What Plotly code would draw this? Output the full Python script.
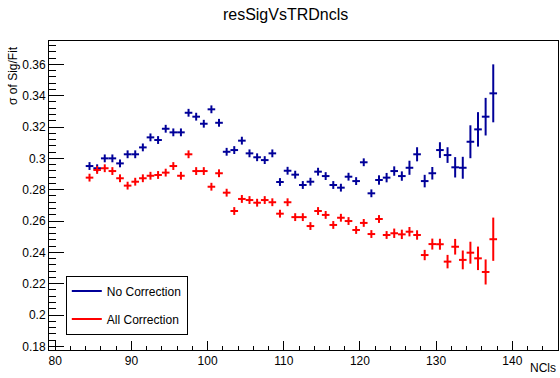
import plotly.graph_objects as go

# ---- data ----
ncls = [84.5 + i for i in range(54)]

no_corr = [0.2951, 0.2937, 0.3000, 0.3000, 0.2968, 0.3026, 0.3026, 0.3070, 0.3134, 0.3117,
           0.3189, 0.3166, 0.3166, 0.3291, 0.3266, 0.3221, 0.3313, 0.3227, 0.3042, 0.3053,
           0.3113, 0.3032, 0.3007, 0.2989, 0.3032, 0.2849, 0.2921, 0.2896, 0.2830, 0.2851,
           0.2915, 0.2887, 0.2830, 0.2813, 0.2883, 0.2855, 0.2975, 0.2777, 0.2862, 0.2877,
           0.2919, 0.2887, 0.2940, 0.3026, 0.2855, 0.2905, 0.3053, 0.3021, 0.2943, 0.2940,
           0.3106, 0.3185, 0.3266, 0.3415]
no_corr_err = [0.0025] * 38 + [0.003, 0.003, 0.003, 0.003, 0.0045, 0.0045, 0.004, 0.004,
                               0.005, 0.005, 0.0065, 0.007, 0.0105, 0.011, 0.012, 0.0185]

all_corr = [0.2877, 0.2926, 0.2937, 0.2919, 0.2873, 0.2826, 0.2851, 0.2873, 0.2889, 0.2894,
            0.2909, 0.2951, 0.2889, 0.3026, 0.2919, 0.2919, 0.2819, 0.2905, 0.2781, 0.2664,
            0.2741, 0.2734, 0.2717, 0.2734, 0.2720, 0.2647, 0.2720, 0.2625, 0.2625, 0.2568,
            0.2664, 0.2639, 0.2575, 0.2621, 0.2600, 0.2543, 0.2588, 0.2517, 0.2613, 0.2511,
            0.2522, 0.2515, 0.2532, 0.2511, 0.2383, 0.2453, 0.2452, 0.2341, 0.2436, 0.2352,
            0.2398, 0.2362, 0.2275, 0.2484]
all_corr_err = [0.0025] * 40 + [0.003, 0.003, 0.003, 0.003, 0.0033, 0.0035, 0.0035, 0.0043,
                                0.005, 0.006, 0.007, 0.0075, 0.008, 0.0138]

bin_half = [0.5] * len(ncls)

title = "resSigVsTRDncls"
x_title = "NCls"
y_title = "σ of Sig/Fit"
names = ["No Correction", "All Correction"]

BLUE = "#000099"
RED = "#ff0000"
FONT = "Liberation Sans, Arial, Helvetica, sans-serif"

fig = go.Figure()
for yv, ye, col in [(no_corr, no_corr_err, BLUE), (all_corr, all_corr_err, RED)]:
    fig.add_trace(go.Scatter(
        x=ncls, y=yv, mode="markers",
        marker=dict(size=1, color=col),
        error_y=dict(type="data", array=ye, color=col, thickness=2, width=0),
        error_x=dict(type="data", array=bin_half, color=col, thickness=2, width=0),
        showlegend=False,
    ))

# legend entries (line samples)
for nm, col in zip(names, [BLUE, RED]):
    fig.add_trace(go.Scatter(x=[None], y=[None], mode="lines", name=nm,
                             legendgroup=nm, line=dict(color=col, width=2)))

fig.update_layout(
    width=560, height=378,
    margin=dict(l=49, r=2, t=41, b=28),
    paper_bgcolor="white", plot_bgcolor="white",
    font=dict(family=FONT, size=12, color="black"),
    title=dict(text=title, x=0.51, xanchor="center", y=0.962, yanchor="middle",
               font=dict(size=16, family=FONT, color="black")),
    showlegend=True,
    legend=dict(x=0.033, y=0.05, xanchor="left", yanchor="bottom",
                bordercolor="black", borderwidth=1, bgcolor="white",
                font=dict(size=12, family=FONT), tracegroupgap=9,
                itemwidth=30, entrywidth=122),
    xaxis=dict(range=[79.18, 146.0], showgrid=False, zeroline=False,
               showline=True, linecolor="black", linewidth=1, mirror=True,
               ticks="inside", ticklen=9, tickcolor="black", dtick=10, tick0=0,
               minor=dict(ticks="inside", ticklen=4, dtick=2, tickcolor="black"),
               tickfont=dict(size=12)),
    yaxis=dict(range=[0.1777, 0.3749], showgrid=False, zeroline=False,
               showline=True, linecolor="black", linewidth=1, mirror=True,
               ticks="inside", ticklen=15, tickcolor="black", dtick=0.02, tick0=0,
               minor=dict(ticks="inside", ticklen=7, dtick=0.004, tickcolor="black"),
               tickfont=dict(size=12)),
    annotations=[
        dict(text=x_title, xref="paper", yref="paper", x=1.0, y=-0.088,
             xanchor="right", yanchor="bottom", showarrow=False, font=dict(size=12)),
        dict(text=y_title, xref="paper", yref="paper", x=-0.072, y=0.99,
             xanchor="center", yanchor="top", textangle=-90, showarrow=False,
             font=dict(size=12)),
    ],
)

fig.write_html("out.html")
